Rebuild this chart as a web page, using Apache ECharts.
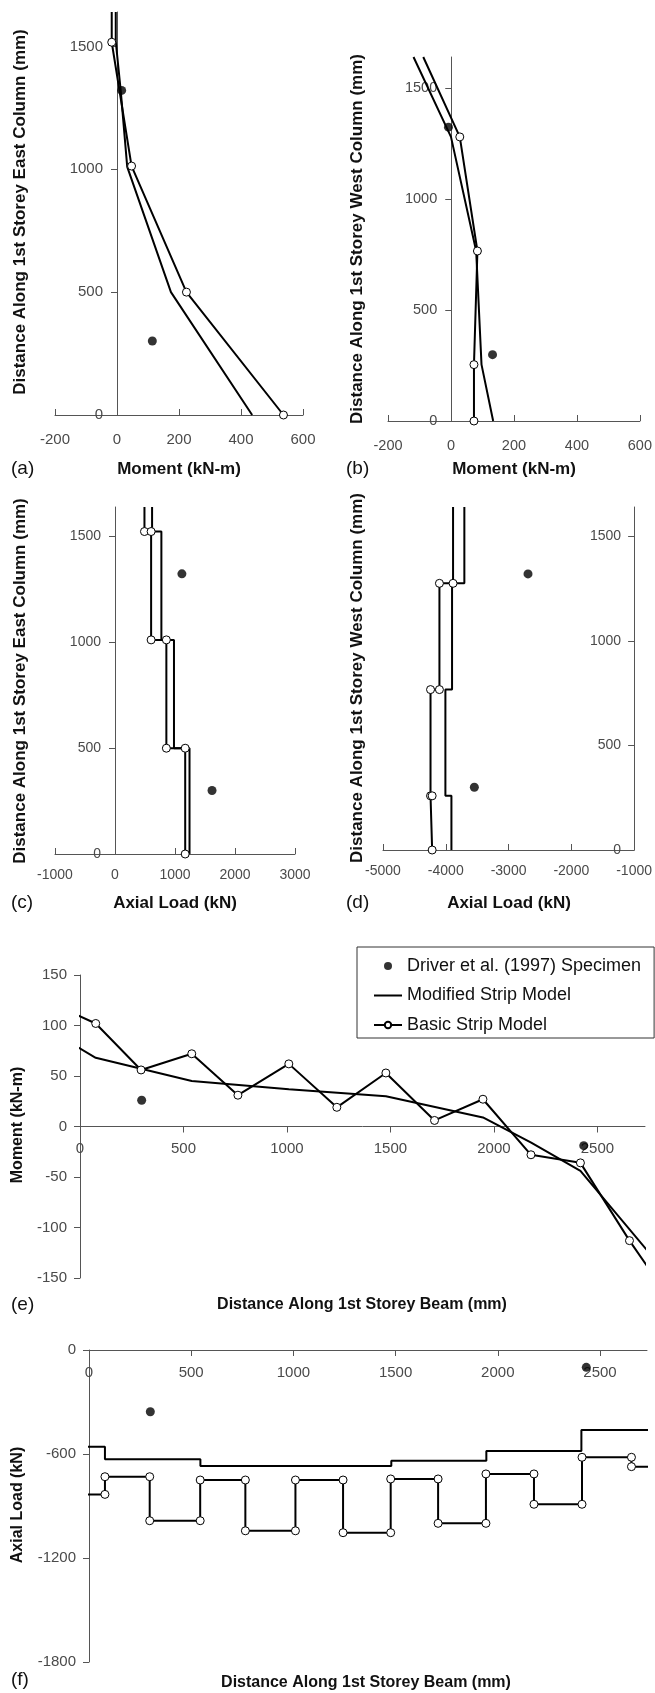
<!DOCTYPE html>
<html>
<head>
<meta charset="utf-8">
<script src="https://cdn.jsdelivr.net/npm/echarts@6/dist/echarts.min.js"></script>
<style>html,body{margin:0;padding:0;background:#fff}#c{width:655px;height:1693px}</style>
</head>
<body>
<div id="c"></div>
<script>
// ---------- tick labels ----------
const distanceTicks = [0, 500, 1000, 1500];
const momentColTicks = [-200, 0, 200, 400, 600];
const axialEastTicks = [-1000, 0, 1000, 2000, 3000];
const axialWestTicks = [-5000, -4000, -3000, -2000, -1000];
const beamTicks = [0, 500, 1000, 1500, 2000, 2500];
const beamMomentTicks = [-150, -100, -50, 0, 50, 100, 150];
const beamAxialTicks = [-1800, -1200, -600, 0];

// ---------- series names ----------
const nameSpecimen = 'Driver et al. (1997) Specimen';
const nameModified = 'Modified Strip Model';
const nameBasic = 'Basic Strip Model';

// ---------- (a) moment, east column: [moment kN-m, distance mm] ----------
const eastMomentModified = [[436, 0], [174, 500], [33, 1010], [12, 1320], [-4, 1520], [-4, 1640]];
const eastMomentBasic = [[537, 0], [224, 500], [47, 1013], [-17, 1517], [-17, 1640]];
const eastMomentSpecimen = [[15, 1321], [114, 301]];

// ---------- (b) moment, west column ----------
const westMomentModified = [[134, 0], [97, 254], [80, 766], [0, 1280], [-119, 1640]];
const westMomentBasic = [[73, 0], [73, 254], [84, 766], [28, 1280], [-88, 1640]];
const westMomentSpecimen = [[-8, 1324], [132, 299]];

// ---------- (c) axial load, east column ----------
const eastAxialModified = [[618, 1640], [618, 1524], [773, 1524], [773, 1012], [983, 1012], [983, 500], [1242, 500], [1242, 0]];
const eastAxialBasic = [[491, 1640], [491, 1524], [602, 1524], [602, 1012], [856, 1012], [856, 500], [1170, 500], [1170, 0]];
const eastAxialSpecimen = [[1115, 1324], [1617, 300]];

// ---------- (d) axial load, west column ----------
const westAxialModified = [[-3704, 1640], [-3704, 1275], [-3900, 1275], [-3900, 767], [-4006, 767], [-4006, 259], [-3910, 259], [-3910, 0]];
const westAxialBasic = [[-3884, 1640], [-3884, 1275], [-4101, 1275], [-4101, 767], [-4243, 767], [-4243, 259], [-4217, 259], [-4217, 0]];
const westAxialSpecimen = [[-2690, 1320], [-3545, 300]];

// ---------- (e) moment along beam: [distance mm, moment kN-m] ----------
const beamMomentModified = [[-30, 81], [76, 68], [540, 45], [1009, 37], [1478, 30], [1947, 9], [2180, -16], [2418, -44], [2750, -125]];
const beamMomentBasic = [[-30, 112], [76, 102], [295, 56], [540, 72], [763, 31], [1009, 62], [1241, 19], [1478, 53], [1713, 6], [1947, 27], [2179, -28], [2418, -36], [2655, -113], [2750, -141]];
const beamMomentSpecimen = [[298, 26], [2434, -19]];

// ---------- (f) axial load along beam ----------
const beamAxialModified = [[-21, -558], [78, -558], [78, -631], [545, -631], [545, -669], [1479, -669], [1479, -639], [1944, -639], [1944, -583], [2409, -583], [2409, -462], [2758, -462]];
const beamAxialBasic = [[-21, -833], [78, -833], [78, -731], [297, -731], [297, -985], [544, -985], [544, -750], [765, -750], [765, -1043], [1010, -1043], [1010, -750], [1243, -750], [1243, -1054], [1476, -1054], [1476, -744], [1708, -744], [1708, -1000], [1942, -1000], [1942, -715], [2177, -715], [2177, -890], [2412, -890], [2412, -619], [2654, -619], [2654, -673], [2758, -673]];
const beamAxialSpecimen = [[300, -356], [2433, -100]];

// ------------------------------------------------------------------
const FONT = '"Liberation Sans", Arial, Helvetica, sans-serif';
const AX = '#555';
const LBL = '#4a4a4a';
const plain = v => String(v);

function basicData(arr, noSymbolIdx) {
  return arr.map((p, i) => noSymbolIdx.indexOf(i) >= 0 ? { value: p, symbol: 'none' } : p);
}

function lbl(ticks, size, margin, inside) {
  return { inside: !!inside, customValues: ticks, formatter: plain, fontSize: size, color: LBL, fontFamily: FONT, margin: margin };
}

function xAx(grid, min, max, ticks, tickInside, size, margin, extra) {
  return Object.assign({
    gridIndex: grid, type: 'value', min: min, max: max, position: 'bottom',
    axisLine: { show: true, onZero: false, lineStyle: { color: AX, width: 1 } },
    axisTick: { show: true, inside: tickInside, length: 6, customValues: ticks, lineStyle: { color: AX } },
    axisLabel: lbl(ticks, size, margin),
    splitLine: { show: false }
  }, extra || {});
}
function yAx(grid, min, max, ticks, size, margin, extra) {
  return Object.assign({
    gridIndex: grid, type: 'value', min: min, max: max, position: 'left',
    axisLine: { show: true, onZero: false, lineStyle: { color: AX, width: 1 } },
    axisTick: { show: true, inside: false, length: 6, customValues: ticks, lineStyle: { color: AX } },
    axisLabel: lbl(ticks, size, margin),
    splitLine: { show: false }
  }, extra || {});
}

function panelSeries(idx, modified, basic, specimen) {
  return [
    {
      type: 'line', name: nameModified, xAxisIndex: idx, yAxisIndex: idx, data: modified,
      symbol: 'none', clip: false, lineStyle: { color: '#000', width: 2 }, itemStyle: { color: '#000' }, z: 3
    },
    {
      type: 'line', name: nameBasic, xAxisIndex: idx, yAxisIndex: idx, data: basic,
      symbol: 'circle', symbolSize: 8, showSymbol: true, clip: false,
      lineStyle: { color: '#000', width: 2 },
      itemStyle: { color: '#fff', borderColor: '#000', borderWidth: 1 }, z: 4
    },
    {
      type: 'scatter', name: nameSpecimen, xAxisIndex: idx, yAxisIndex: idx, data: specimen,
      symbol: 'circle', symbolSize: 9, itemStyle: { color: '#000' }, z: 5
    }
  ];
}

function txt(x, y, text, font, align, rot) {
  return {
    type: 'text', x: x, y: y, rotation: rot || 0, silent: true,
    style: {
      text: text, font: font, fill: '#111',
      textAlign: align || 'center', textVerticalAlign: 'middle',
      align: align || 'center', verticalAlign: 'middle'
    }
  };
}
const TB = 'bold 17px ' + FONT;
const TB16 = 'bold 16px ' + FONT;
const TL = '19px ' + FONT;
const R90 = Math.PI / 2;

const option = {
  animation: false,
  backgroundColor: '#fff',
  grid: [
    { left: 55, top: 12, width: 248, height: 403 },
    { left: 388, top: 57, width: 253, height: 364 },
    { left: 55, top: 507, width: 240, height: 347 },
    { left: 383, top: 507, width: 252, height: 343 },
    { left: 80, top: 975, width: 565, height: 303 },
    { left: 89, top: 1350, width: 558, height: 312 }
  ],
  xAxis: [
    xAx(0, -200, 600, momentColTicks, true, 15, 17),
    xAx(1, -200, 600, momentColTicks, true, 14.5, 17),
    xAx(2, -1000, 3000, axialEastTicks, true, 14, 14),
    xAx(3, -5000, -1000, axialWestTicks, true, 14, 14),
    // (e): axis line at moment = 0, half the grid height above the bottom
    xAx(4, 0, 2730, beamTicks, false, 15, 15, { offset: -151.5 }),
    // (f): axis line at axial load = 0, the top of the grid, labels below the line
    xAx(5, 0, 2730, beamTicks, true, 15, 15, {
      position: 'top',
      axisLabel: lbl(beamTicks, 15, 15, true)
    })
  ],
  yAxis: [
    // y axes of (a)-(c) sit at x = 0
    yAx(0, 0, 1640, distanceTicks, 15, 14, { offset: -62 }),
    yAx(1, 0, 1640, distanceTicks, 14.5, 14, { offset: -63.25 }),
    yAx(2, 0, 1640, distanceTicks, 14, 14, { offset: -60 }),
    yAx(3, 0, 1640, distanceTicks, 14, 13, {
      position: 'right',
      axisTick: { show: true, inside: true, length: 6, customValues: distanceTicks, lineStyle: { color: AX } },
      axisLabel: lbl(distanceTicks, 14, 13, true)
    }),
    yAx(4, -150, 150, beamMomentTicks, 15, 13),
    yAx(5, -1800, 0, beamAxialTicks, 15, 13)
  ],
  legend: {
    data: [
      nameSpecimen,
      { name: nameModified, icon: 'path://M0,0L28,0L28,2L0,2Z' },
      nameBasic
    ],
    orient: 'vertical', left: 357, top: 947,
    itemWidth: 28, itemHeight: 8, itemGap: 11.5,
    padding: [10, 13, 4, 16],
    borderColor: '#333', borderWidth: 1,
    textStyle: { fontSize: 18, color: '#111', fontFamily: FONT },
    selectedMode: false
  },
  series: [].concat(
    panelSeries(0, eastMomentModified, basicData(eastMomentBasic, [4]), eastMomentSpecimen),
    panelSeries(1, westMomentModified, basicData(westMomentBasic, [4]), westMomentSpecimen),
    panelSeries(2, eastAxialModified, basicData(eastAxialBasic, [0]), eastAxialSpecimen),
    panelSeries(3, westAxialModified, basicData(westAxialBasic, [0]), westAxialSpecimen),
    panelSeries(4, beamMomentModified, basicData(beamMomentBasic, [0, 13]), beamMomentSpecimen),
    panelSeries(5, beamAxialModified, basicData(beamAxialBasic, [0, 25]), beamAxialSpecimen)
  ),
  graphic: {
    elements: [
      txt(20, 212, 'Distance Along 1st Storey East Column (mm)', TB, 'center', R90),
      txt(179, 469, 'Moment (kN-m)', TB),
      txt(11, 469, '(a)', TL, 'left'),
      txt(357, 239, 'Distance Along 1st Storey West Column (mm)', TB, 'center', R90),
      txt(514, 469, 'Moment (kN-m)', TB),
      txt(346, 469, '(b)', TL, 'left'),
      txt(20, 681, 'Distance Along 1st Storey East Column (mm)', TB, 'center', R90),
      txt(175, 903, 'Axial Load (kN)', TB),
      txt(11, 903, '(c)', TL, 'left'),
      txt(357, 678, 'Distance Along 1st Storey West Column (mm)', TB, 'center', R90),
      txt(509, 903, 'Axial Load (kN)', TB),
      txt(346, 903, '(d)', TL, 'left'),
      txt(18, 1125, 'Moment (kN-m)', TB16, 'center', R90),
      txt(362, 1305, 'Distance Along 1st Storey Beam (mm)', TB16),
      txt(11, 1305, '(e)', TL, 'left'),
      txt(18, 1505, 'Axial Load (kN)', TB16, 'center', R90),
      txt(366, 1683, 'Distance Along 1st Storey Beam (mm)', TB16),
      txt(11, 1680, '(f)', TL, 'left')
    ]
  }
};

const chart = echarts.init(document.getElementById('c'), null, { renderer: 'canvas', width: 655, height: 1693 });
chart.setOption(option);
</script>
</body>
</html>
